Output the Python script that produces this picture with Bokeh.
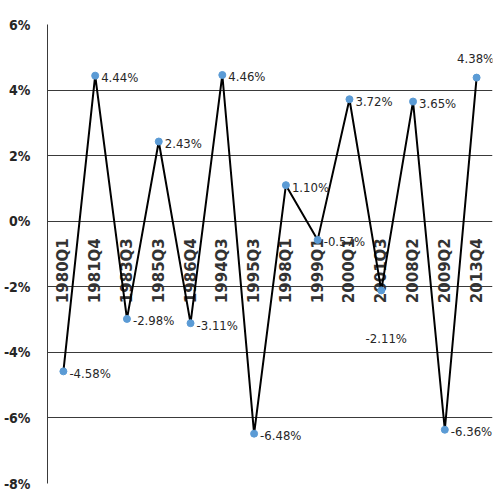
from bokeh.plotting import figure
from bokeh.models import ColumnDataSource, FactorRange, Range1d, FixedTicker, CustomJSTickFormatter
from bokeh.core.properties import value
from bokeh.embed import file_html
from bokeh.resources import INLINE

# Quarterly growth readings at turning points
quarters = ["1980Q1", "1981Q4", "1983Q3", "1985Q3", "1986Q4", "1994Q3", "1995Q3",
            "1998Q1", "1999Q1", "2000Q1", "2001Q3", "2008Q2", "2009Q2", "2013Q4"]
growth = [-4.58, 4.44, -2.98, 2.43, -3.11, 4.46, -6.48,
          1.10, -0.57, 3.72, -2.11, 3.65, -6.36, 4.38]
y_ticks = [-8, -6, -4, -2, 0, 2, 4, 6]

LABEL_FONT = "DejaVu Sans Condensed"

p = figure(width=499, height=495, x_range=FactorRange(factors=quarters, range_padding=0),
           y_range=Range1d(-8, 6), output_backend="svg", toolbar_location=None,
           min_border_left=43, min_border_right=7, min_border_top=24, min_border_bottom=12)
p.outline_line_color = None
p.background_fill_color = "white"
p.border_fill_color = "white"

# y axis: percent labels, no tick marks
p.yaxis.ticker = FixedTicker(ticks=y_ticks)
p.yaxis.formatter = CustomJSTickFormatter(code="return tick.toFixed(0) + '%';")
p.yaxis.major_tick_line_color = None
p.yaxis.minor_tick_line_color = None
p.yaxis.axis_line_color = "#3a3a3a"
p.yaxis.axis_line_width = 1
p.yaxis.major_label_standoff = 11
p.yaxis.major_label_text_font = LABEL_FONT
p.yaxis.major_label_text_font_size = "14px"
p.yaxis.major_label_text_font_style = "bold"
p.yaxis.major_label_text_color = "#262626"

p.xaxis.visible = False
p.xgrid.grid_line_color = None
p.ygrid.ticker = FixedTicker(ticks=y_ticks)
p.ygrid.grid_line_color = "#3a3a3a"
p.ygrid.grid_line_width = 1

src = ColumnDataSource(dict(
    q=quarters, g=growth,
    zero=[0] * len(quarters),
    txt=[f"{v:.2f}%" for v in growth],
))

# category names written vertically just under the zero line
p.text(x="q", y="zero", text="q", source=src, angle=1.5708,
       text_align="right", text_baseline="middle", y_offset=17,
       text_font=value("DejaVu Sans"), text_font_style="bold",
       text_font_size="15px", text_color="#333333")

p.line(x="q", y="g", source=src, line_color="black", line_width=2)
p.scatter(x="q", y="g", source=src, size=7, fill_color="#5B9BD5", line_color="#5B9BD5")

# value labels: most sit to the right of the point
n = len(quarters)
xo = [6] * n
yo = [2] * n
align = ["left"] * n
# 2001Q3 label sits well below its point, 2013Q4 label above
i = quarters.index("2001Q3")
xo[i], yo[i], align[i] = 5, 48, "center"
i = quarters.index("2013Q4")
xo[i], yo[i], align[i] = -1, -19, "center"
src.data["xo"] = xo
src.data["yo"] = yo
src.data["al"] = align

p.text(x="q", y="g", text="txt", source=src, x_offset="xo", y_offset="yo",
       text_align="al", text_baseline="middle",
       text_font=value(LABEL_FONT), text_font_size="13px",
       text_color="#262626")

open("out.html", "w").write(file_html(p, INLINE))
